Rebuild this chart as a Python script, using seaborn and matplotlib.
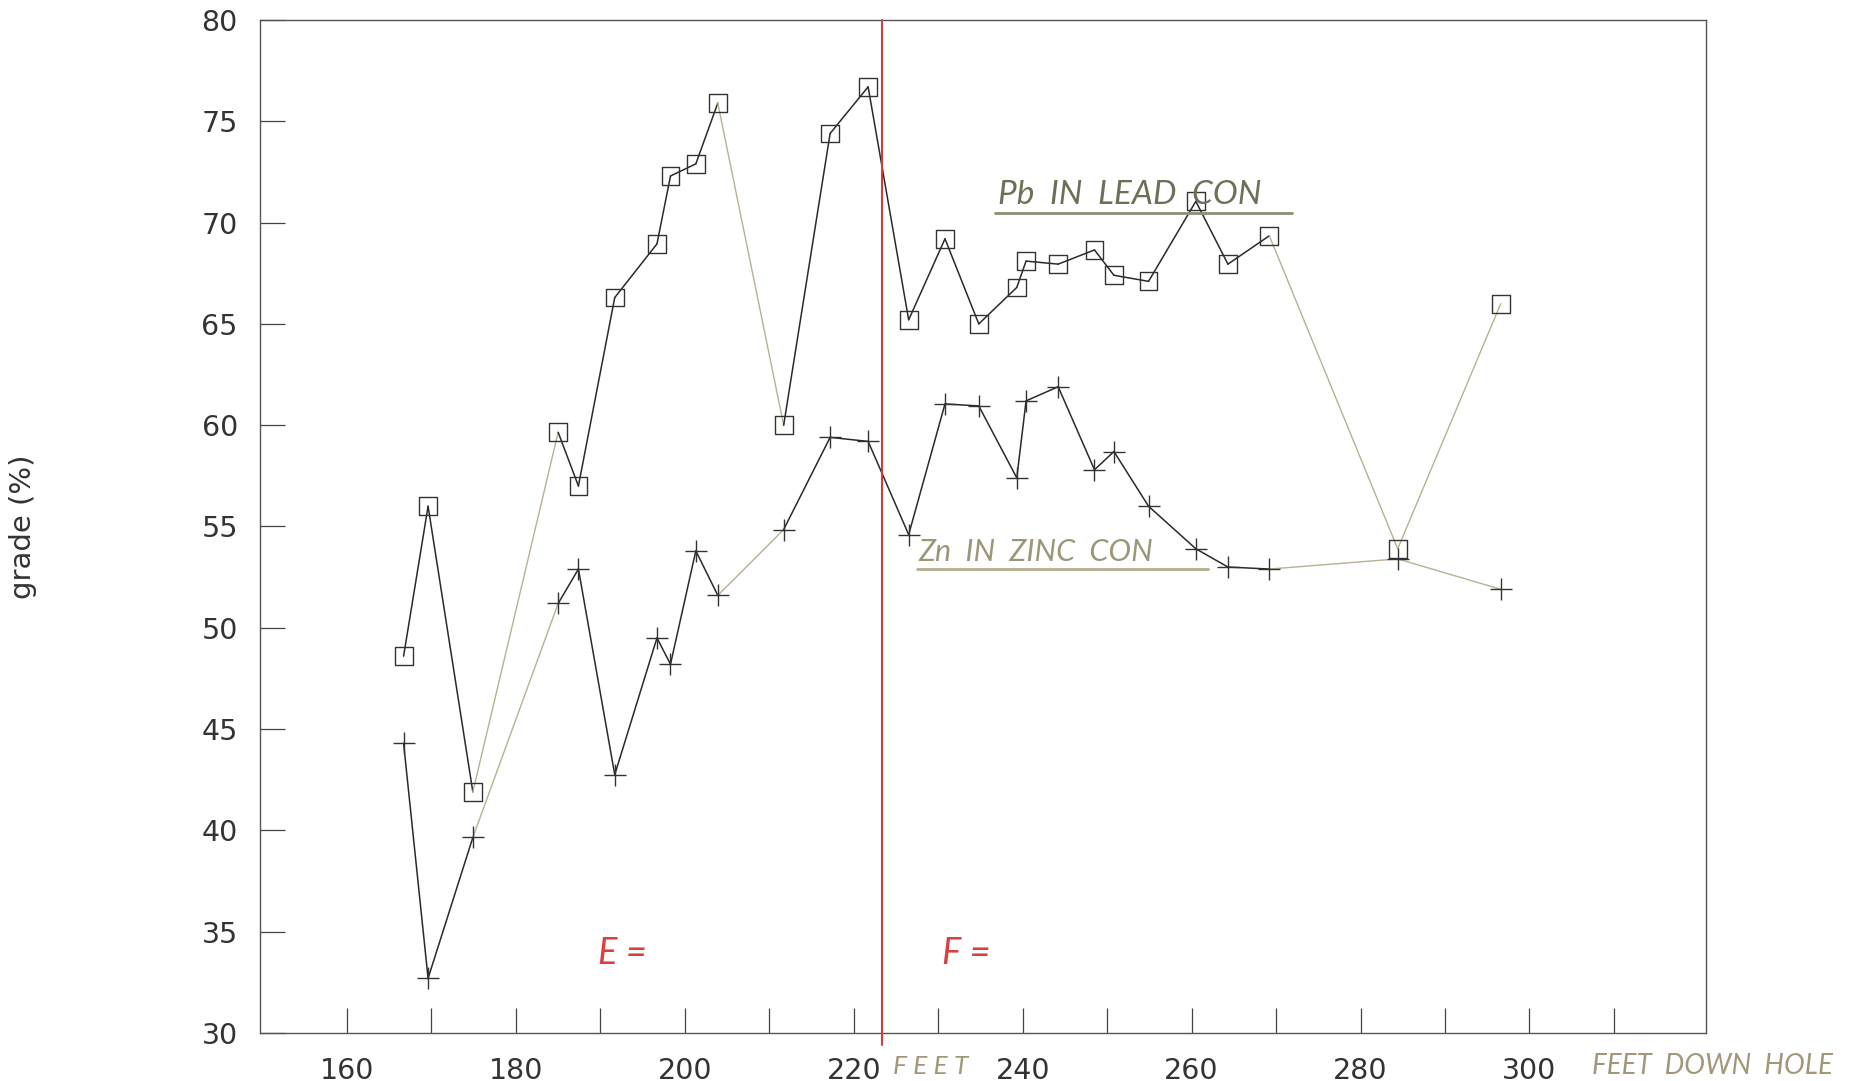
import numpy as np
import pandas as pd
import matplotlib
matplotlib.use("Agg")
import matplotlib.pyplot as plt
import seaborn as sns

# Sample depths (feet down hole) and concentrate grades (%)
depth = [166.7, 169.6, 174.9, 185.0, 187.4, 191.7, 196.7, 198.3, 201.3, 203.9,
         211.7, 217.2, 221.7, 226.5, 230.8, 234.8, 239.3, 240.4, 244.2, 248.5,
         250.8, 254.9, 260.5, 264.3, 269.2, 284.4, 296.6]
pb_lead_con = [48.6, 56.0, 41.9, 59.65, 57.0, 66.3, 68.95, 72.3, 72.9, 75.9,
               60.0, 74.4, 76.7, 65.2, 69.2, 65.0, 66.8, 68.1, 67.95, 68.65,
               67.4, 67.1, 71.05, 67.95, 69.35, 53.9, 66.0]
zn_zinc_con = [44.3, 32.7, 39.65, 51.2, 52.9, 42.75, 49.5, 48.2, 53.8, 51.6,
               54.85, 59.4, 59.2, 54.6, 61.05, 60.95, 57.4, 61.2, 61.9, 57.8,
               58.7, 56.0, 53.9, 53.0, 52.9, 53.4, 51.9]
zone_boundary = 223.3
y_ticks = [30, 35, 40, 45, 50, 55, 60, 65, 70, 75, 80]
x_major = [160, 180, 200, 220, 240, 260, 280, 300]
x_minor = [170, 190, 210, 230, 250, 270, 290, 310]

sns.set_style("white")
plt.rcParams['font.family'] = ['DejaVu Sans']

fig = plt.figure(figsize=(18.56, 10.81), dpi=100)
ax = fig.add_axes([260 / 1856, 1 - 1033 / 1081, (1706 - 260) / 1856, (1033 - 20) / 1081])

ink = "#2a2a2a"
faint = "#b9b190"

df = pd.DataFrame({"depth": depth, "Pb": pb_lead_con, "Zn": zn_zinc_con})

# connecting lines; long sampling gaps come out lighter
for col in ["Pb", "Zn"]:
    for i in range(len(df) - 1):
        seg = df.iloc[i:i + 2]
        gap = seg["depth"].iloc[1] - seg["depth"].iloc[0]
        ax.plot(seg["depth"], seg[col], color=faint if gap > 7 else ink,
                lw=1.0 if gap > 7 else 1.1, zorder=2)

sns.scatterplot(data=df, x="depth", y="Pb", marker="s", s=165,
                facecolors="none", edgecolor="#333333", linewidth=1.0, ax=ax, zorder=3)
sns.scatterplot(data=df, x="depth", y="Zn", marker="+", s=260,
                color="#333333", linewidth=1.0, ax=ax, zorder=3)

# zone boundary
ax.plot([zone_boundary, zone_boundary], [80, 29.4], color="#d83a3a", lw=1.5,
        clip_on=False, zorder=4)

ax.set_xlim(149.7, 320.9)
ax.set_ylim(30, 80)
ax.set_xticks(x_major)
ax.set_xticks(x_minor, minor=True)
ax.set_yticks(y_ticks)
ax.set_xticklabels([str(v) for v in x_major])
ax.set_yticklabels([str(v) for v in y_ticks])
ax.tick_params(axis="both", which="both", direction="in", length=18, width=0.9,
               color="#444444", labelcolor="#333333", labelsize=20.5,
               bottom=True, left=True, top=False, right=False)
ax.tick_params(axis="x", which="both", pad=17)
ax.tick_params(axis="y", pad=16)
for sp in ax.spines.values():
    sp.set_color("#555555")
    sp.set_linewidth(1.0)
    sp.set_visible(True)

ax.set_xlabel("")
ax.set_ylabel("grade (%)", fontsize=21, color="#333333", labelpad=118)

# hand-written notes
hand = dict(family=["Lato", "DejaVu Sans"], style="italic")
ax.text(998 / 1856, 1 - 195 / 1081, "Pb  IN  LEAD  CON", transform=fig.transFigure,
        fontsize=24, color="#6f6f58", ha="left", va="center", **hand)
ax.plot([995 / 1856, 1292 / 1856], [1 - 213 / 1081] * 2, transform=fig.transFigure,
        color="#8f8f75", lw=2.0, clip_on=False)
ax.text(918 / 1856, 1 - 552 / 1081, "Zn  IN  ZINC  CON", transform=fig.transFigure,
        fontsize=22, color="#9c9678", ha="left", va="center", **hand)
ax.plot([917 / 1856, 1208 / 1856], [1 - 569 / 1081] * 2, transform=fig.transFigure,
        color="#b5ad8d", lw=2.0, clip_on=False)
ax.text(893 / 1856, 1 - 1066 / 1081, "F E E T", transform=fig.transFigure, fontsize=19,
        color="#a3977a", ha="left", va="center", **hand)
ax.text(1592 / 1856, 1 - 1066 / 1081, "FEET  DOWN  HOLE", transform=fig.transFigure,
        fontsize=20, color="#a3977a", ha="left", va="center", **hand)
ax.text(598 / 1856, 1 - 953 / 1081, "E =", transform=fig.transFigure, fontsize=26,
        color="#d94040", ha="left", va="center", **hand)
ax.text(942 / 1856, 1 - 953 / 1081, "F =", transform=fig.transFigure, fontsize=26,
        color="#d94040", ha="left", va="center", **hand)

fig.savefig("out.png", dpi=100, facecolor="white")
